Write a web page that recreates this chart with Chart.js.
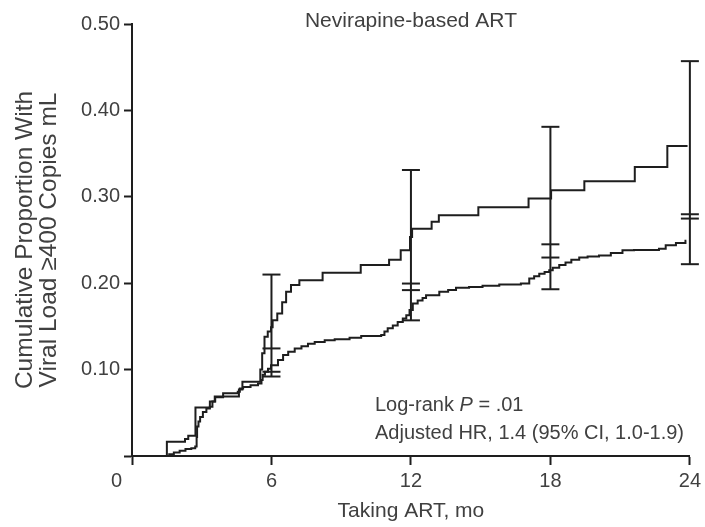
<!DOCTYPE html>
<html>
<head>
<meta charset="utf-8">
<script src="https://cdn.jsdelivr.net/npm/chart.js@4.4.1/dist/chart.umd.min.js"></script>
<style>
  html, body { margin: 0; padding: 0; background: #fff; }
  #wrap { width: 705px; height: 527px; }
</style>
</head>
<body>
<div id="wrap"><canvas id="km" width="705" height="527"></canvas></div>
<script>
// months on ART, step times where the curve jumps
const smallTimes = [1.38, 1.5, 2.28, 2.42, 2.73, 3.35, 3.56, 4.6, 4.75, 5.52, 5.6, 5.7, 5.84, 5.98,
  6.05, 6.25, 6.46, 6.63, 6.84, 7.2, 8.2, 9.84, 11.06, 11.56, 11.96, 12.05, 12.89, 13.2, 14.9,
  17.06, 18.03, 19.46, 21.63, 23.03, 23.9];
const smallValues = [0, 0.0165, 0.0197, 0.0235, 0.056, 0.063, 0.069, 0.077, 0.086, 0.1, 0.119, 0.138, 0.144, 0.149,
  0.157, 0.165, 0.178, 0.19, 0.198, 0.2035, 0.212, 0.221, 0.227, 0.238, 0.2536, 0.263, 0.271, 0.2786, 0.288,
  0.298, 0.3075, 0.318, 0.3345, 0.3587, 0.3587];

const largeTimes = [1.38, 1.6, 1.8, 2.05, 2.3, 2.55, 2.72, 2.78, 2.8, 2.86, 2.93, 3.05, 3.2, 3.35, 3.46, 3.58,
  3.92, 4.55, 4.64, 4.78, 5.1, 5.42, 5.57, 5.62, 5.72, 5.85, 5.98, 6.28, 6.5, 6.72, 7.0, 7.29, 7.57, 7.86,
  8.29, 8.72, 9.36, 9.86, 10.72, 10.86, 11.0, 11.22, 11.43, 11.65, 11.8, 11.94, 12.08, 12.29, 12.5, 12.65,
  13.22, 13.6, 13.94, 14.5, 15.08, 15.8, 16.73, 17.09, 17.3, 17.52, 17.75, 17.95, 18.1, 18.38, 18.65, 18.9,
  19.24, 19.6, 20.09, 20.6, 21.1, 21.6, 22.67, 22.96, 23.4, 23.81, 23.85];
const largeValues = [0, 0.002, 0.004, 0.006, 0.008, 0.009, 0.011, 0.022, 0.034, 0.04, 0.045, 0.051, 0.055, 0.057, 0.063, 0.068,
  0.0725, 0.0745, 0.078, 0.08, 0.082, 0.084, 0.088, 0.094, 0.0975, 0.101, 0.105, 0.111, 0.117, 0.1206, 0.1245, 0.127, 0.13, 0.132,
  0.134, 0.135, 0.137, 0.139, 0.14, 0.144, 0.148, 0.151, 0.155, 0.159, 0.163, 0.169, 0.1765, 0.18, 0.183, 0.186,
  0.19, 0.192, 0.1946, 0.1955, 0.197, 0.1985, 0.1996, 0.2054, 0.208, 0.211, 0.213, 0.215, 0.218, 0.221, 0.224, 0.227,
  0.2297, 0.231, 0.232, 0.235, 0.238, 0.2385, 0.24, 0.244, 0.2465, 0.249, 0.249];

// 95% CI at the marked months
const ciTimes = [6, 12, 18, 24];
const smallLow = [0.0975, 0.1996, 0.245, 0.2798];
const smallHigh = [0.21, 0.331, 0.381, 0.457];
const largeLow = [0.092, 0.157, 0.193, 0.222];
const largeHigh = [0.1245, 0.192, 0.2297, 0.2748];

const xTicks = [0, 6, 12, 18, 24];
const yTicks = [0, 0.1, 0.2, 0.3, 0.4, 0.5];

const ink = '#1e1e1e';
const textInk = '#404040';
const fontFamily = '"Liberation Sans", Arial, Helvetica, sans-serif';

function toPoints(times, values) {
  return times.map((t, i) => ({ x: t, y: values[i] }));
}

// one vertical run per month, nulls break the line between them
function ciPoints() {
  const pts = [];
  ciTimes.forEach((t, i) => {
    [largeLow[i], largeHigh[i], smallLow[i], smallHigh[i]]
      .sort((a, b) => a - b)
      .forEach(v => pts.push({ x: t, y: v }));
    pts.push({ x: t + 0.5, y: null });
  });
  return pts;
}

const textPlugin = {
  id: 'texts',
  afterDraw(chart) {
    const { ctx, chartArea } = chart;
    ctx.save();
    ctx.fillStyle = textInk;
    ctx.textBaseline = 'middle';

    ctx.font = '21px ' + fontFamily;
    ctx.textAlign = 'center';
    ctx.fillText('Nevirapine-based ART', (chartArea.left + chartArea.right) / 2, 21);

    // origin label sits under the corner
    ctx.font = '20px ' + fontFamily;
    ctx.fillText('0', chartArea.left - 15.5, chartArea.bottom + 25);

    ctx.textAlign = 'left';
    let x = 375;
    const parts = [['Log-rank ', ''], ['P', 'italic '], [' = .01', '']];
    parts.forEach(([s, style]) => {
      ctx.font = style + '20px ' + fontFamily;
      ctx.fillText(s, x, 405);
      x += ctx.measureText(s).width;
    });
    ctx.font = '20px ' + fontFamily;
    ctx.fillText('Adjusted HR, 1.4 (95% CI, 1.0-1.9)', 375, 433);
    ctx.restore();
  }
};

const ctx = document.getElementById('km').getContext('2d');
new Chart(ctx, {
  type: 'line',
  data: {
    datasets: [
      {
        label: 'small',
        data: toPoints(smallTimes, smallValues),
        stepped: 'before',
        borderColor: ink,
        borderWidth: 2,
        pointRadius: 0,
        fill: false
      },
      {
        label: 'large',
        data: toPoints(largeTimes, largeValues),
        stepped: 'before',
        borderColor: ink,
        borderWidth: 2,
        pointRadius: 0,
        fill: false
      },
      {
        label: 'ci',
        data: ciPoints(),
        borderColor: ink,
        borderWidth: 2,
        pointStyle: 'line',
        pointRadius: 9,
        pointBorderWidth: 2,
        pointBorderColor: ink,
        spanGaps: false,
        clip: false,
        fill: false
      }
    ]
  },
  options: {
    responsive: false,
    animation: false,
    devicePixelRatio: 1,
    layout: { padding: { top: 24, right: 14, left: 0, bottom: 0 } },
    plugins: { legend: { display: false }, tooltip: { enabled: false } },
    scales: {
      x: {
        type: 'linear',
        min: 0,
        max: 24,
        afterBuildTicks(scale) { scale.ticks = xTicks.map(v => ({ value: v })); },
        afterFit(scale) { scale.height = 71; },
        ticks: {
          color: textInk,
          font: { family: fontFamily, size: 20 },
          padding: 4,
          callback: v => (v === 0 ? '' : String(v))
        },
        grid: { drawOnChartArea: false, tickLength: 9, tickColor: ink, tickWidth: 2 },
        border: { color: ink, width: 2 },
        title: {
          display: true,
          text: 'Taking ART, mo',
          color: textInk,
          font: { family: fontFamily, size: 21 },
          padding: { top: 0, bottom: 3 }
        }
      },
      y: {
        min: 0,
        max: 0.5,
        afterBuildTicks(scale) { scale.ticks = yTicks.map(v => ({ value: v })); },
        afterFit(scale) { scale.width = 132; },
        ticks: {
          color: textInk,
          font: { family: fontFamily, size: 20 },
          padding: 4,
          callback: v => (v === 0 ? '' : v.toFixed(2))
        },
        grid: { drawOnChartArea: false, tickLength: 8, tickColor: ink, tickWidth: 2 },
        border: { color: ink, width: 2 },
        title: {
          display: true,
          text: ['Cumulative Proportion With', 'Viral Load \u2265400 Copies mL'],
          color: textInk,
          font: { family: fontFamily, size: 24.5, lineHeight: '24px' },
          padding: { top: 13.5, bottom: 0 }
        }
      }
    }
  },
  plugins: [textPlugin]
});
</script>
</body>
</html>
